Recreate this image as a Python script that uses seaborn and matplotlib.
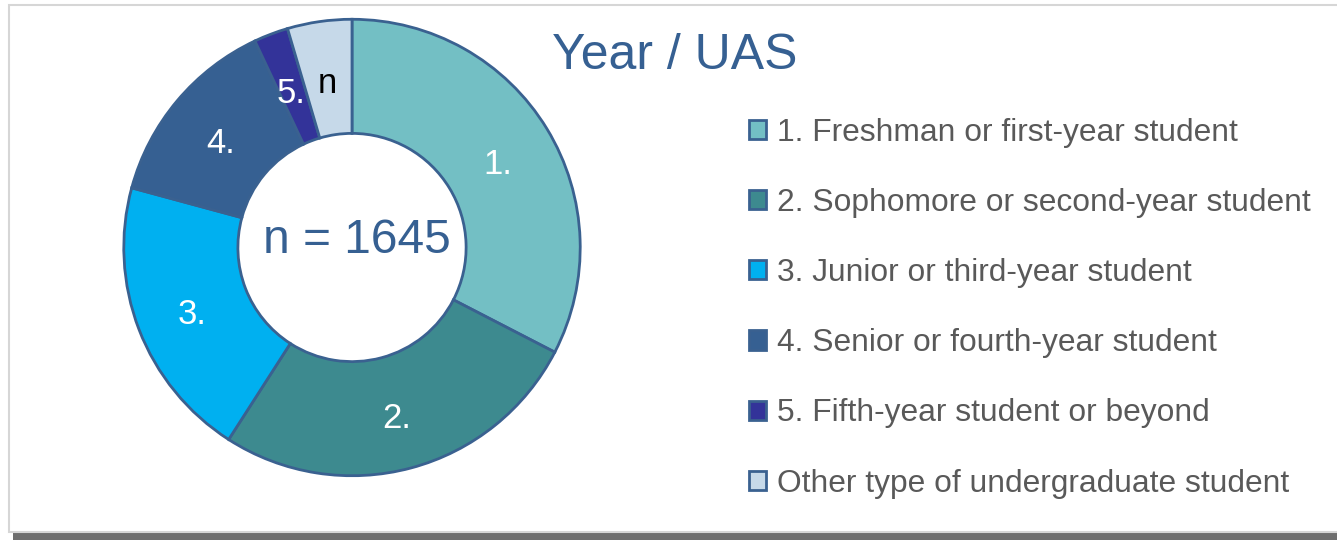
import matplotlib
matplotlib.use("Agg")
import matplotlib.pyplot as plt
from matplotlib.patches import Patch, Rectangle
import seaborn as sns

# year of study, counts (n = 1645)
categories = ["1. Freshman or first-year student",
              "2. Sophomore or second-year student",
              "3. Junior or third-year student",
              "4. Senior or fourth-year student",
              "5. Fifth-year student or beyond",
              "Other type of undergraduate student"]
slice_labels = ["1.", "2.", "3.", "4.", "5.", "n"]
counts = [536, 436, 331, 227, 40, 75]
total_n = 1645
title = "Year / UAS"

sns.set_theme(style="white")
plt.rcParams["font.family"] = ["Liberation Sans", "DejaVu Sans"]

colors = sns.color_palette(["#73BFC4", "#3D8A8F", "#00B0F0",
                            "#366092", "#333399", "#C6D9E9"])
edge = "#3A6190"
W, H = 1337, 540

fig = plt.figure(figsize=(W / 100, H / 100), dpi=100)

# chart frame with drop shadow
fig.patches.append(Rectangle((13 / W, 0), 1.0, 527 / H, transform=fig.transFigure,
                             facecolor="#6E6E6E", edgecolor="none", zorder=-2))
fig.patches.append(Rectangle((9 / W, 8 / H), 1.0, 527 / H, transform=fig.transFigure,
                             facecolor="white", edgecolor="#D6D6D6", linewidth=1.5, zorder=-1))

cx, cy, r = 352, 247.5, 230.5
ax = fig.add_axes([(cx - r) / W, (H - cy - r) / H, 2 * r / W, 2 * r / H])
ax.set_zorder(2)
wedges, texts = ax.pie(counts, labels=slice_labels, colors=colors, startangle=90,
                       counterclock=False, labeldistance=0.75,
                       wedgeprops=dict(width=0.5, edgecolor=edge, linewidth=2),
                       textprops=dict(color="white", fontsize=25, ha="center", va="center"))
texts[-1].set_color("black")
# excel puts the labels a touch lower than the ring centre
for t in texts:
    x, y = t.get_position()
    t.set_position((x, y - 0.025))
ax.set_xlim(-1.01, 1.01)
ax.set_ylim(-1.01, 1.01)
ax.set_aspect("equal")
ax.axis("off")
ax.text(0.02, 0.03, f"n = {total_n}", ha="center", va="center",
        fontsize=34.5, color="#366092")

fig.text(675 / W, 1 - 56 / H, title, ha="center", va="center",
         fontsize=36, color="#366092")

handles = [Patch(facecolor=c, edgecolor=edge, linewidth=2) for c in colors]
fig.legend(handles, categories, loc="upper left", bbox_to_anchor=(749 / W, 1 - 117.5 / H),
           frameon=False, fontsize=22.9, labelcolor="#595959",
           handlelength=0.55, handleheight=0.55, handletextpad=0.33,
           labelspacing=1.265, borderaxespad=0, borderpad=0)

fig.savefig("out.png", dpi=100)
